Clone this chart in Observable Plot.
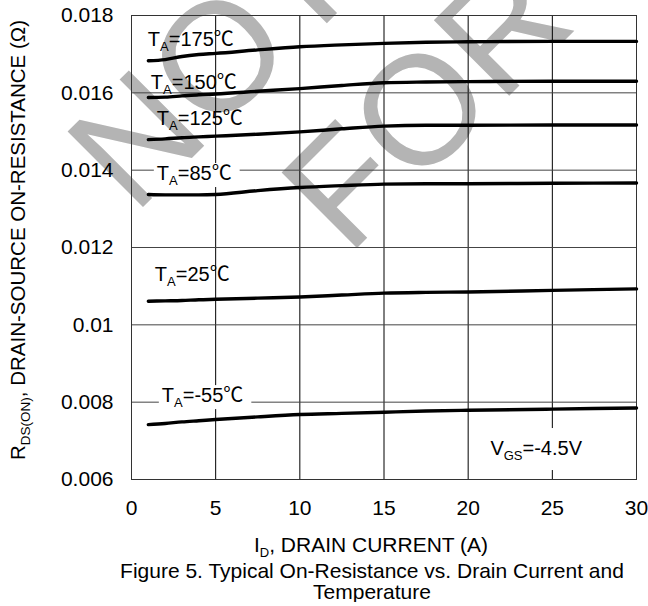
<!DOCTYPE html>
<html>
<head>
<meta charset="utf-8">
<script src="https://cdn.jsdelivr.net/npm/d3@7"></script>
<script src="https://cdn.jsdelivr.net/npm/@observablehq/plot@0.6"></script>
<style>
  body { margin: 0; background: #fff; font-family: "Liberation Sans", Arial, sans-serif; }
  #chart svg { display: block; }
  #caption {
    box-sizing: border-box; width: 648px; padding-left: 96px;
    text-align: center; font-size: 21px; line-height: 21px; color: #000;
  }
</style>
</head>
<body>
<div id="chart"></div>
<div id="caption">Figure 5. Typical On-Resistance vs. Drain Current and<br>Temperature</div>
<script>
// Drain current sample points (A)
const drainCurrent = [1, 2, 3, 4, 5, 7.5, 10, 12.5, 15, 17.5, 20, 25, 30];

// Ambient temperatures (°C), one curve each
const temperatures = [175, 150, 125, 85, 25, -55];

// R_DS(ON) in ohms for each temperature, at the drain currents above
const rds175 = [0.01683, 0.01686, 0.01694, 0.01699, 0.01702, 0.01711, 0.01719, 0.01724, 0.01728, 0.01731, 0.01732, 0.01733, 0.01733];
const rds150 = [0.01588, 0.01589, 0.01592, 0.01595, 0.01597, 0.01604, 0.01611, 0.01619, 0.01626, 0.01628, 0.01629, 0.01630, 0.01630];
const rds125 = [0.01479, 0.01481, 0.01484, 0.01486, 0.01488, 0.01493, 0.01499, 0.01507, 0.01514, 0.01516, 0.01516, 0.01517, 0.01517];
const rds85  = [0.01337, 0.01336, 0.01336, 0.01336, 0.01337, 0.01347, 0.01355, 0.01360, 0.01364, 0.01365, 0.01365, 0.01366, 0.01367];
const rds25  = [0.01061, 0.01062, 0.01063, 0.01065, 0.01066, 0.01069, 0.01072, 0.01077, 0.01082, 0.01084, 0.01085, 0.01089, 0.01093];
const rdsM55 = [0.00742, 0.00745, 0.00749, 0.00752, 0.00755, 0.00762, 0.00768, 0.00771, 0.00774, 0.00777, 0.00779, 0.00782, 0.00785];

// Axis ticks and their labels
const xTicks = [0, 5, 10, 15, 20, 25, 30];
const yTicks = [0.006, 0.008, 0.010, 0.012, 0.014, 0.016, 0.018];
const yTickLabels = ["0.006", "0.008", "0.01", "0.012", "0.014", "0.016", "0.018"];

// Test condition note
const vgsValue = "-4.5V";
const vgsAt = {current: 21.35, rds: 0.00662};

const seriesValues = [rds175, rds150, rds125, rds85, rds25, rdsM55];
const rows = temperatures.flatMap((t, k) =>
  drainCurrent.map((id, i) => ({temp: t, id, r: seriesValues[k][i]}))
);

const FONT = '"Liberation Sans", Arial, sans-serif';

const chart = Plot.plot({
  width: 648,
  height: 560,
  marginLeft: 131,
  marginRight: 12,
  marginTop: 15,
  marginBottom: 81,
  style: {fontFamily: FONT, fontSize: "21px", color: "#000", background: "#fff", overflow: "visible"},
  x: {domain: [0, 30]},
  y: {domain: [0.006, 0.018]},
  marks: [
    Plot.gridX(xTicks, {stroke: "#000", strokeOpacity: 1}),
    Plot.gridY(yTicks, {stroke: "#444", strokeOpacity: 1}),
    Plot.frame({stroke: "#333"}),
    Plot.axisX(xTicks, {tickSize: 0, tickPadding: 21, label: null}),
    Plot.axisY(yTicks, {tickSize: 0, tickPadding: 18, label: null,
      tickFormat: d => yTickLabels[yTicks.indexOf(d)]}),
    Plot.line(rows, {x: "id", y: "r", z: "temp", stroke: "#000", strokeWidth: 3.4,
      strokeLinecap: "round", curve: "monotone-x"})
  ]
});

document.getElementById("chart").appendChild(chart);

const svg = d3.select(chart);
const sx = chart.scale("x"), sy = chart.scale("y");

// Background watermark, drawn underneath everything
const wm = svg.insert("g", ":first-child")
  .attr("fill", "#b4b4b4")
  .attr("text-anchor", "start")
  .attr("font-family", FONT)
  .attr("font-size", 155);
wm.append("text").attr("transform", "translate(134,216) rotate(-45)").text("NOT");
wm.append("text").attr("transform", "translate(348,257) rotate(-45)").text("FOR");

// Writes text made of plain and subscript pieces
function richText(sel, pieces, size, subSize, shift) {
  pieces.forEach(p => {
    const ts = sel.append("tspan").text(p.t);
    if (p.sub) ts.attr("font-size", subSize).attr("dy", shift);
    else if (p.back) ts.attr("font-size", size).attr("dy", -shift);
    if (p.cjk) ts.attr("font-family", '"Noto Sans CJK SC", sans-serif');
  });
  return sel;
}

// Curve labels, placed from each curve's first point
const labelOffsets = {175: [0, -14, false], 150: [3, -8, false], 125: [9, -14, false],
                      85: [9, -14, true], 25: [7, -20, false], "-55": [14, -22, true]};
const labels = svg.append("g").attr("font-family", FONT).attr("font-size", 20)
  .attr("text-anchor", "start");
temperatures.forEach((t, k) => {
  const [dx, dy, boxed] = labelOffsets[t];
  const x0 = sx.apply(drainCurrent[0]) + dx;
  const y0 = sy.apply(seriesValues[k][0]) + dy;
  const g = labels.append("g");
  const txt = richText(g.append("text").attr("x", x0).attr("y", y0),
    [{t: "T"}, {t: "A", sub: true}, {t: "=" + t, back: true}, {t: "\u2103", cjk: true}], 20, 13, 5);
  if (boxed) {
    const b = txt.node().getBBox();
    g.insert("rect", "text").attr("x", b.x - 3).attr("y", y0 - 17)
      .attr("width", b.width + 11).attr("height", 24).attr("fill", "#fff");
  }
});

// Gate-source voltage note
{
  const x0 = sx.apply(vgsAt.current), y0 = sy.apply(vgsAt.rds);
  const g = svg.append("g").attr("font-family", FONT).attr("font-size", 20)
    .attr("text-anchor", "start");
  const txt = richText(g.append("text").attr("x", x0).attr("y", y0),
    [{t: "V"}, {t: "GS", sub: true}, {t: "=" + vgsValue, back: true}], 20, 13, 5);
  const b = txt.node().getBBox();
  g.insert("rect", "text").attr("x", b.x - 4).attr("y", y0 - 27)
    .attr("width", b.width + 8).attr("height", 42).attr("fill", "#fff");
}

// Axis titles
{
  const [y1, y2] = sy.range;
  const ty = svg.append("text").attr("font-family", FONT).attr("font-size", 20.5)
    .attr("text-anchor", "middle")
    .attr("transform", `translate(25,${(y1 + y2) / 2 - 7}) rotate(-90)`);
  richText(ty, [{t: "R"}, {t: "DS(ON)", sub: true}, {t: ", DRAIN-SOURCE ON-RESISTANCE (\u03A9)", back: true}], 20.5, 13.5, 5);

  const tx = svg.append("text").attr("font-family", FONT).attr("font-size", 21)
    .attr("text-anchor", "middle").attr("x", 371).attr("y", 552);
  richText(tx, [{t: "I"}, {t: "D", sub: true}, {t: ", DRAIN CURRENT (A)", back: true}], 21, 13, 5);
}
</script>
</body>
</html>
